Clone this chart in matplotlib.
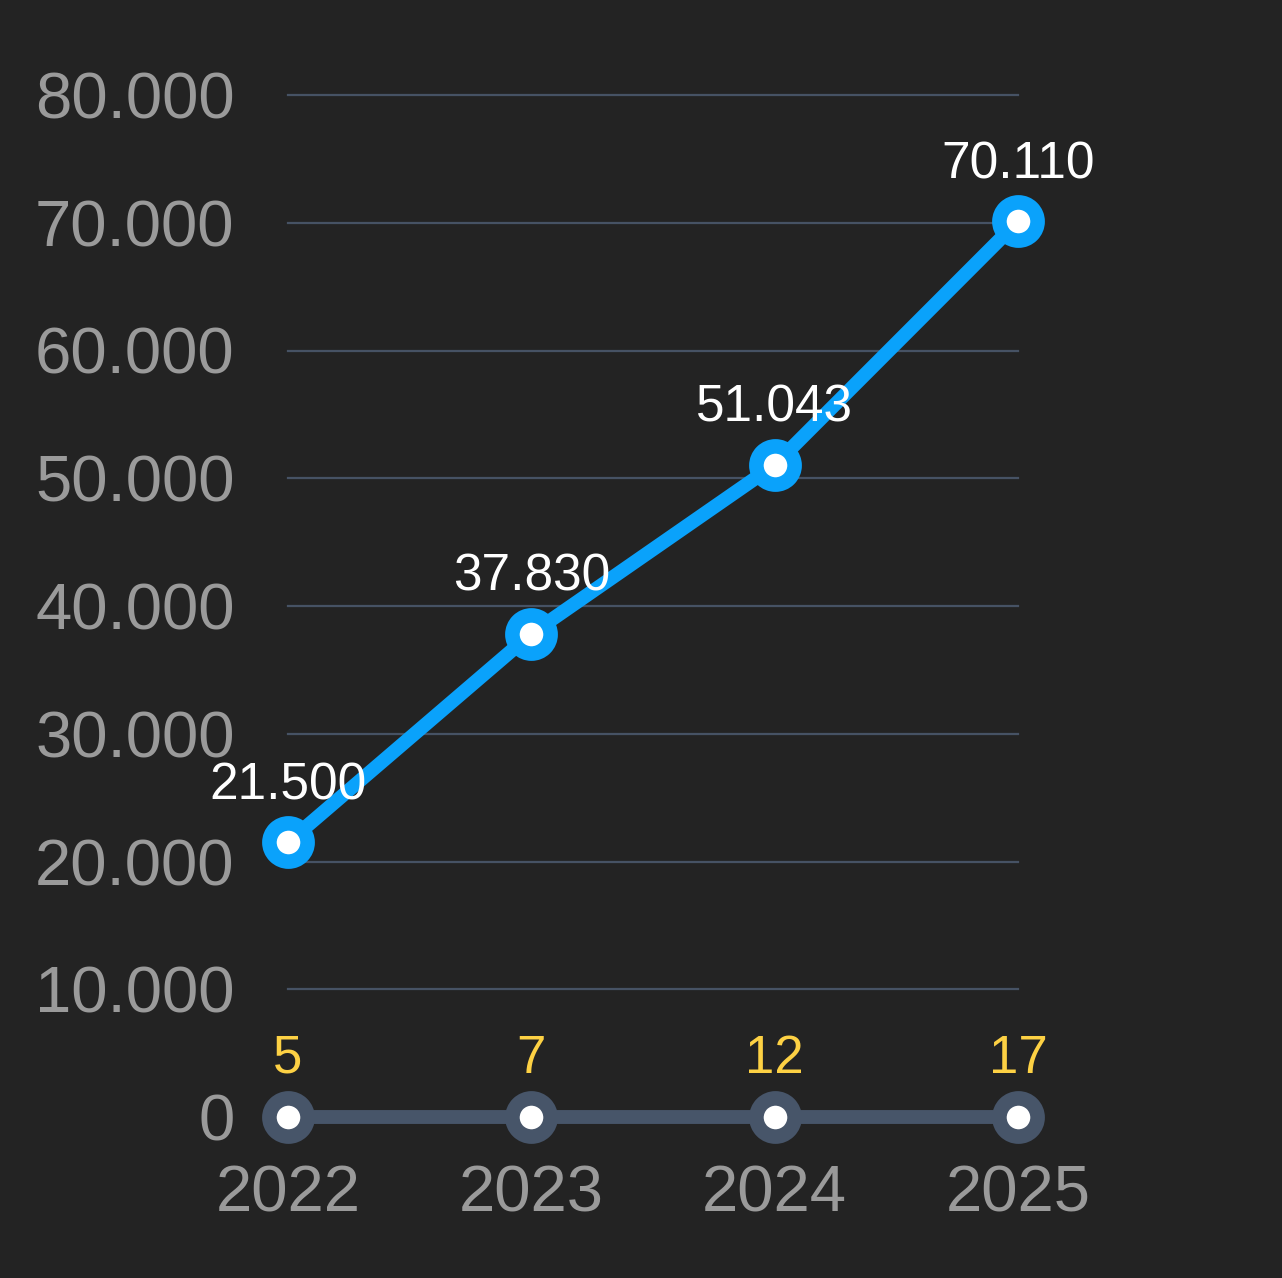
import matplotlib
matplotlib.use("Agg")
import matplotlib.pyplot as plt
from matplotlib.ticker import FuncFormatter

years = ["2022", "2023", "2024", "2025"]
revenue = [21500, 37830, 51043, 70110]
counts = [5, 7, 12, 17]
y_ticks = [0, 10000, 20000, 30000, 40000, 50000, 60000, 70000, 80000]

BG = "#232323"
BLUE = "#0aa2fb"
SLATE = "#475569"
GRID = "#465264"
TICK = "#9a9a9a"
YELLOW = "#fdd144"

plt.rcParams['font.family'] = ['Liberation Sans', 'DejaVu Sans']

W, H = 1282, 1278
fig = plt.figure(figsize=(W / 100, H / 100), dpi=100, facecolor=BG)
left, right, top, bottom = 288, 1018, 95, 1117
ax = fig.add_axes([left / W, 1 - bottom / H, (right - left) / W, (bottom - top) / H])
ax.set_facecolor(BG)

x = list(range(len(years)))
ax.set_xlim(0, len(years) - 1)
ax.set_ylim(0, 80000)

for yv in y_ticks[1:]:
    ax.axhline(yv, color=GRID, lw=1.6, zorder=1, clip_on=False)

mk = dict(marker='o', markersize=27.5, markeredgewidth=10.5, markerfacecolor='white',
          clip_on=False, solid_capstyle='round', solid_joinstyle='round')
ax.plot(x, [0] * len(counts), color=SLATE, lw=10, markeredgecolor=SLATE, zorder=3, **mk)
ax.plot(x, revenue, color=BLUE, lw=10, markeredgecolor=BLUE, zorder=4, **mk)

def fmt(v):
    return f"{int(v):,}".replace(",", ".")

for xi, v in zip(x, revenue):
    ax.annotate(fmt(v), (xi, v), xytext=(0, 31), textcoords='offset points',
                ha='center', va='baseline', color='white', fontsize=37, zorder=6,
                annotation_clip=False)
for xi, c in zip(x, counts):
    ax.annotate(str(c), (xi, 0), xytext=(0, 32), textcoords='offset points',
                ha='center', va='baseline', color=YELLOW, fontsize=38, zorder=6,
                annotation_clip=False)

ax.set_yticks(y_ticks)
ax.yaxis.set_major_formatter(FuncFormatter(lambda v, p: fmt(v)))
ax.set_xticks(x)
ax.set_xticklabels(years)
ax.tick_params(axis='y', length=0, pad=38.5, labelsize=47, labelcolor=TICK)
ax.tick_params(axis='x', length=0, pad=34.5, labelsize=47, labelcolor=TICK)
for s in ax.spines.values():
    s.set_visible(False)

fig.savefig("out.png", dpi=100, facecolor=BG)
